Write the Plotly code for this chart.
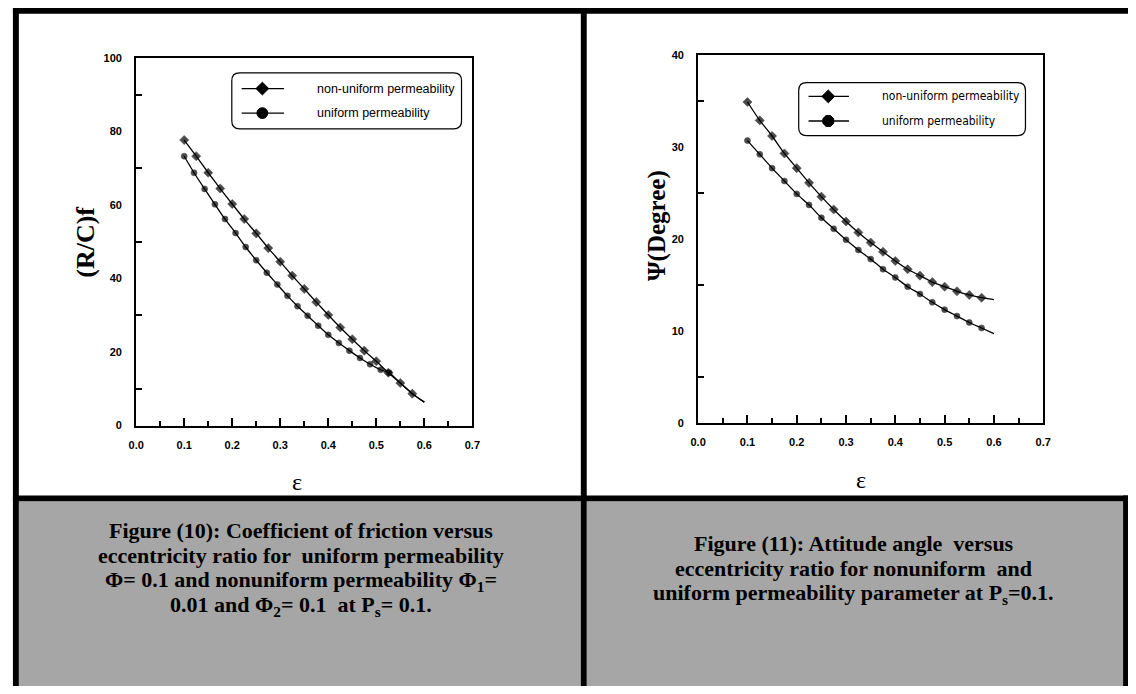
import plotly.graph_objects as go

W, H = 1136, 694

# ---------------- data ----------------
eps_step = [0.1, 0.125, 0.15, 0.175, 0.2, 0.225, 0.25, 0.275, 0.3, 0.325, 0.35,
            0.375, 0.4, 0.425, 0.45, 0.475, 0.5, 0.525, 0.55, 0.575, 0.6]

fric_nonuniform = [77.7, 73.3, 68.8, 64.5, 60.3, 56.2, 52.3, 48.3, 44.6, 40.8, 37.2,
                   33.6, 30.1, 26.7, 23.5, 20.4, 17.5, 14.4, 11.6, 8.7, 6.4]

eps_fric_uniform = [0.1, 0.1205, 0.1425, 0.164, 0.185, 0.207, 0.228, 0.25, 0.272, 0.294,
                    0.315, 0.336, 0.357, 0.379, 0.4, 0.422, 0.444, 0.466, 0.487, 0.509,
                    0.527, 0.55, 0.575, 0.6]
fric_uniform = [73.3, 68.8, 64.4, 60.2, 56.2, 52.4, 48.6, 45.0, 41.6, 38.4,
                35.3, 32.5, 29.9, 27.2, 24.7, 22.5, 20.4, 18.4, 16.7, 15.2,
                14.4, 11.6, 8.7, 6.4]

psi_nonuniform = [34.9, 32.9, 31.2, 29.3, 27.7, 26.1, 24.6, 23.2, 21.9, 20.7, 19.6,
                  18.6, 17.6, 16.7, 16.0, 15.3, 14.8, 14.3, 13.9, 13.6, 13.4]
psi_uniform = [30.7, 29.2, 27.7, 26.3, 24.9, 23.7, 22.3, 21.1, 19.9, 18.8, 17.8,
               16.7, 15.8, 14.8, 14.0, 13.1, 12.3, 11.6, 10.9, 10.3, 9.7]

x_ticks = [0.0, 0.1, 0.2, 0.3, 0.4, 0.5, 0.6, 0.7]
fric_ticks = [0, 20, 40, 60, 80, 100]
psi_ticks = [0, 10, 20, 30, 40]
series_names = ["non-uniform permeability", "uniform permeability"]

caption_left = [
    "Figure (10): Coefficient of friction versus",
    "eccentricity ratio for  uniform permeability",
    "Φ= 0.1 and nonuniform permeability Φ<sub>1</sub>=",
    "0.01 and Φ<sub>2</sub>= 0.1  at P<sub>s</sub>= 0.1.",
]
caption_right = [
    "Figure (11): Attitude angle  versus",
    "eccentricity ratio for nonuniform  and",
    "uniform permeability parameter at P<sub>s</sub>=0.1.",
]


# --------------- helpers ---------------
def px(x):
    return x / W


def py(y):
    return 1 - y / H


def sizes(n, s, last_hidden):
    return [s] * (n - last_hidden) + [0] * last_hidden


fig = go.Figure()

line_style = dict(color="black", width=1.3, shape="spline", smoothing=0.6)
mline = dict(color="black", width=0.6)

# left chart
fig.add_trace(go.Scatter(x=eps_step, y=fric_nonuniform, mode="lines+markers",
                         name=series_names[0], line=line_style,
                         marker=dict(symbol="diamond", color="black", line=mline,
                                     size=sizes(len(eps_step), 7, 1)),
                         xaxis="x", yaxis="y", showlegend=False))
fig.add_trace(go.Scatter(x=eps_fric_uniform, y=fric_uniform, mode="lines+markers",
                         name=series_names[1], line=line_style,
                         marker=dict(symbol="circle", color="black", line=mline,
                                     size=sizes(len(eps_fric_uniform), 6, 3)),
                         xaxis="x", yaxis="y", showlegend=False))
# right chart
fig.add_trace(go.Scatter(x=eps_step, y=psi_nonuniform, mode="lines+markers",
                         name=series_names[0], line=line_style,
                         marker=dict(symbol="diamond", color="black", line=mline,
                                     size=sizes(len(eps_step), 7, 1)),
                         xaxis="x2", yaxis="y2", showlegend=False))
fig.add_trace(go.Scatter(x=eps_step, y=psi_uniform, mode="lines+markers",
                         name=series_names[1], line=line_style,
                         marker=dict(symbol="circle", color="black", line=mline,
                                     size=sizes(len(eps_step), 6, 1)),
                         xaxis="x2", yaxis="y2", showlegend=False))

tickfont = dict(family="Liberation Sans, Arial", size=11, color="black", weight="bold")


def xaxis_cfg(x0, x1, anchor):
    return dict(domain=[px(x0), px(x1)], range=[0, 0.7], anchor=anchor,
                tickvals=x_ticks, ticktext=[f"{v:.1f}" for v in x_ticks],
                ticks="inside", ticklen=8, tickwidth=1.5, tickcolor="black",
                minor=dict(tickvals=[0.05, 0.15, 0.25, 0.35, 0.45, 0.55, 0.65],
                           ticks="inside", ticklen=5, tickwidth=1.5, tickcolor="black"),
                showline=True, linewidth=2, linecolor="black", mirror=True,
                showgrid=False, zeroline=False, tickfont=tickfont,
                ticklabelstandoff=8, fixedrange=True)


def yaxis_cfg(y0, y1, anchor, rng, tv, minor_vals):
    return dict(domain=[py(y1), py(y0)], range=rng, anchor=anchor,
                tickvals=tv, ticktext=[str(v) for v in tv],
                ticks="", minor=dict(tickvals=minor_vals, ticks="inside", ticklen=6,
                                     tickwidth=1.5, tickcolor="black"),
                showline=True, linewidth=2, linecolor="black", mirror=True,
                showgrid=False, zeroline=False, tickfont=tickfont,
                ticklabelstandoff=10, fixedrange=True)


shapes = []
annotations = []

# background panels
GRAY = "#a6a6a6"
shapes.append(dict(type="rect", xref="paper", yref="paper", x0=px(11), x1=px(581),
                   y0=py(692), y1=py(504), fillcolor=GRAY, line_width=0, layer="below"))
shapes.append(dict(type="rect", xref="paper", yref="paper", x0=px(587), x1=px(1131),
                   y0=py(692), y1=py(504), fillcolor=GRAY, line_width=0, layer="below"))
# black borders
for (a, b, c, d) in [(5, 2, 1136, 8), (5, 2, 11, 692), (581, 2, 587, 692),
                     (5, 498, 1136, 504), (1131, 498, 1136, 692)]:
    shapes.append(dict(type="rect", xref="paper", yref="paper", x0=px(a), x1=px(c),
                       y0=py(d), y1=py(b), fillcolor="black", line_width=0, layer="below"))


def rounded_rect(x0, y0, x1, y1, r):
    pts = [
        f"M{px(x0 + r)},{py(y0)}", f"L{px(x1 - r)},{py(y0)}",
        f"Q{px(x1)},{py(y0)} {px(x1)},{py(y0 + r)}", f"L{px(x1)},{py(y1 - r)}",
        f"Q{px(x1)},{py(y1)} {px(x1 - r)},{py(y1)}", f"L{px(x0 + r)},{py(y1)}",
        f"Q{px(x0)},{py(y1)} {px(x0)},{py(y1 - r)}", f"L{px(x0)},{py(y0 + r)}",
        f"Q{px(x0)},{py(y0)} {px(x0 + r)},{py(y0)}", "Z",
    ]
    return " ".join(pts)


def legend(box, rows, line_x, mark_x, text_x, symbols, fsize, ffam):
    x0, y0, x1, y1 = box
    shapes.append(dict(type="path", xref="paper", yref="paper",
                       path=rounded_rect(x0, y0, x1, y1, 8),
                       line=dict(color="black", width=1.2), fillcolor="white"))
    for ry, sym, name in zip(rows, symbols, series_names):
        shapes.append(dict(type="line", xref="paper", yref="paper",
                           x0=px(line_x[0]), x1=px(line_x[1]), y0=py(ry), y1=py(ry),
                           line=dict(color="black", width=1.3)))
        if sym == "diamond":
            r = 6.5
            path = (f"M{px(mark_x)},{py(ry - r)} L{px(mark_x + r)},{py(ry)} "
                    f"L{px(mark_x)},{py(ry + r)} L{px(mark_x - r)},{py(ry)} Z")
            shapes.append(dict(type="path", xref="paper", yref="paper", path=path,
                               fillcolor="black", line=dict(color="black", width=1)))
        elif sym == "octagon":
            r = 5.5
            k = r * 0.42
            pts = [(-k, -r), (k, -r), (r, -k), (r, k), (k, r), (-k, r), (-r, k), (-r, -k)]
            path = "M" + " L".join(f"{px(mark_x + a)},{py(ry + b)}" for a, b in pts) + " Z"
            shapes.append(dict(type="path", xref="paper", yref="paper", path=path,
                               fillcolor="black", line=dict(color="black", width=1)))
        else:
            r = 5.5
            shapes.append(dict(type="circle", xref="paper", yref="paper",
                               x0=px(mark_x - r), x1=px(mark_x + r),
                               y0=py(ry + r), y1=py(ry - r),
                               fillcolor="black", line=dict(color="black", width=1)))
        annotations.append(dict(xref="paper", yref="paper", x=px(text_x), y=py(ry),
                                xanchor="left", yanchor="middle", showarrow=False,
                                text=name, font=dict(family=ffam, size=fsize, color="black")))


legend((227, 68, 460, 125), (84, 109), (237, 280), 258, 311, ("diamond", "circle"),
       12.5, "Liberation Sans, Arial")
legend((802, 78, 1032, 132), (92, 117), (812, 853), 832, 884, ("diamond", "octagon"),
       12, "DejaVu Sans Condensed, Liberation Sans")

# axis titles
serif = "Liberation Serif, Times New Roman"
annotations.append(dict(xref="paper", yref="paper", x=px(79), y=py(240), text="<b>(R/C)f</b>",
                        textangle=-90, showarrow=False, xanchor="center", yanchor="middle",
                        font=dict(family=serif, size=26, color="black")))
annotations.append(dict(xref="paper", yref="paper", x=px(658), y=py(223), text="<b>Ψ(Degree)</b>",
                        textangle=-90, showarrow=False, xanchor="center", yanchor="middle",
                        font=dict(family=serif, size=25, color="black")))
annotations.append(dict(xref="paper", yref="paper", x=px(293), y=py(484), text="ε",
                        showarrow=False, xanchor="center", yanchor="middle",
                        font=dict(family=serif, size=24, color="black")))
annotations.append(dict(xref="paper", yref="paper", x=px(865), y=py(482), text="ε",
                        showarrow=False, xanchor="center", yanchor="middle",
                        font=dict(family=serif, size=24, color="black")))

# captions
cap_font = dict(family=serif, size=22, color="black")
for i, t in enumerate(caption_left):
    annotations.append(dict(xref="paper", yref="paper", x=px(297), y=py(534 + 25.5 * i),
                            text=f"<b>{t}</b>", showarrow=False, xanchor="center",
                            yanchor="middle", font=cap_font))
for i, t in enumerate(caption_right):
    annotations.append(dict(xref="paper", yref="paper", x=px(858), y=py(547 + 25.5 * i),
                            text=f"<b>{t}</b>", showarrow=False, xanchor="center",
                            yanchor="middle", font=cap_font))

fig.update_layout(
    width=W, height=H, margin=dict(l=0, r=0, t=0, b=0),
    paper_bgcolor="white", plot_bgcolor="rgba(0,0,0,0)",
    showlegend=False,
    xaxis=xaxis_cfg(130, 471, "y"),
    yaxis=yaxis_cfg(53, 427, "x", [0, 100], fric_ticks, [10, 30, 50, 70, 90]),
    xaxis2=xaxis_cfg(700, 1050, "y2"),
    yaxis2=yaxis_cfg(50, 424, "x2", [0, 40], psi_ticks, [5, 15, 25, 35]),
    shapes=shapes, annotations=annotations,
)

fig.write_html("out.html", config={"displayModeBar": False})
